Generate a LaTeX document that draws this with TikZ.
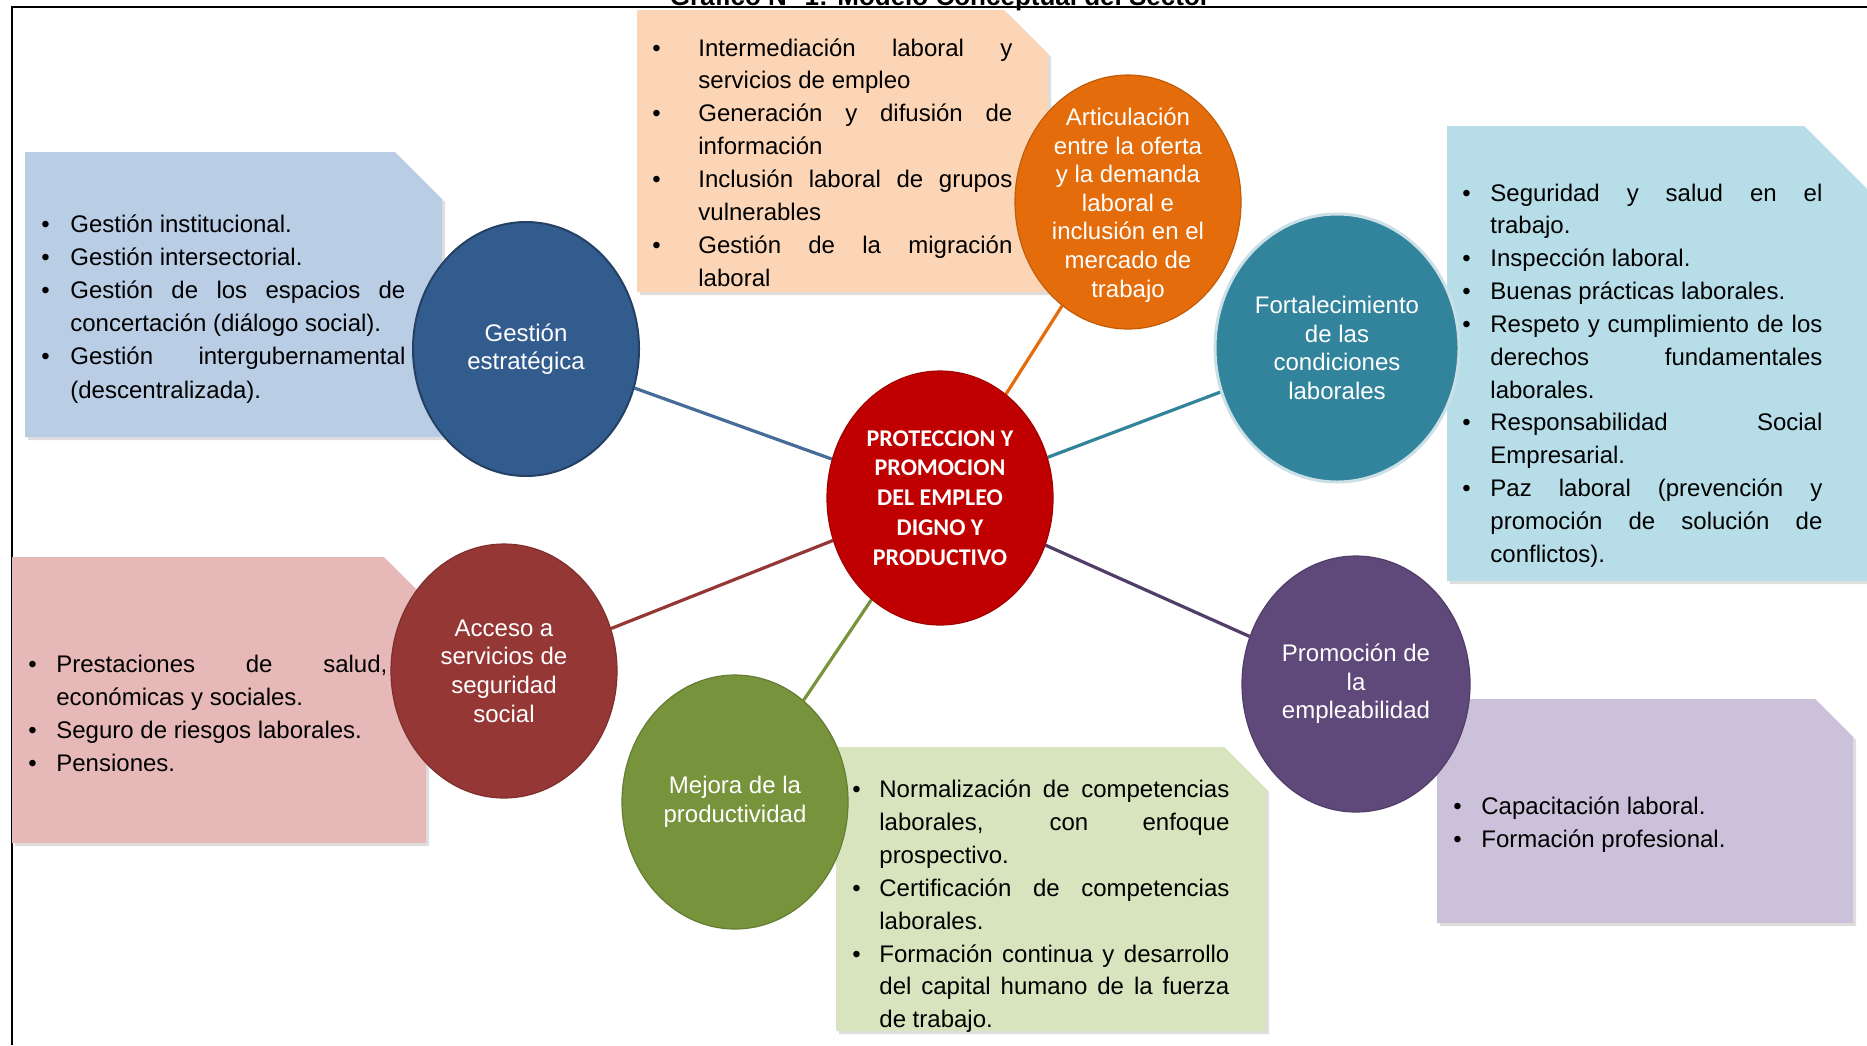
\documentclass[tikz,border=0pt]{standalone}
\usepackage{fontspec}
\setmainfont{Liberation Sans}
\newfontfamily\carlito{Carlito}
\usetikzlibrary{shapes.geometric}
\definecolor{cGE}{HTML}{335C8E}
\definecolor{cOR}{HTML}{E46C0A}
\definecolor{cTE}{HTML}{31849B}
\definecolor{cRE}{HTML}{C00000}
\definecolor{cAC}{HTML}{953735}
\definecolor{cME}{HTML}{77933C}
\definecolor{cPR}{HTML}{5F497A}
\definecolor{bGE}{HTML}{B9CDE5}
\definecolor{bOR}{HTML}{FBD5B5}
\definecolor{bTE}{HTML}{B7DEE8}
\definecolor{bAC}{HTML}{E6B9B8}
\definecolor{bME}{HTML}{D7E4BD}
\definecolor{bPR}{HTML}{CCC1DA}
\pgfdeclarelayer{back}
\pgfdeclarelayer{lines}
\pgfsetlayers{back,lines,main}
\newdimen\Bi \newdimen\Tw
\newcommand\BJ[1]{\hbox{\hbox to\Bi{\textbullet\hss}\hbox to\Tw{#1}}}
\newcommand\BL[1]{\hbox{\hbox to\Bi{\textbullet\hss}\hbox to\Tw{#1\hfil}}}
\newcommand\CJ[1]{\hbox{\hskip\Bi\hbox to\Tw{#1}}}
\newcommand\CL[1]{\hbox{\hskip\Bi\hbox to\Tw{#1\hfil}}}
\newcommand\cutbox[6]{%
  \fill[black,opacity=.13] ({#2+3},{#3+3}) -- ({#4-#6+3},{#3+3}) -- ({#4+3},{#3+#6+3}) -- ({#4+3},{#5+3}) -- ({#2+3},{#5+3}) -- cycle;
  \fill[#1] (#2,#3) -- ({#4-#6},#3) -- (#4,{#3+#6}) -- (#4,#5) -- (#2,#5) -- cycle;}
\begin{document}
\begin{tikzpicture}[x=0.5pt,y=-0.5pt,
  circ/.style={ellipse,minimum width=113pt,minimum height=127pt,inner sep=0pt},
  ctext/.style={inner sep=0pt,align=center,text=white,font=\fontsize{12}{14.3}\selectfont},
  btxt/.style={anchor=base west,inner sep=0pt,font=\fontsize{12}{16.4}\selectfont},
  conn/.style={line width=1.6pt}]
\begin{pgfonlayer}{back}
\fill[white] (0,0) rectangle (1867,1045);
\end{pgfonlayer}
\useasboundingbox (0,0) rectangle (1867,1045);
% title (cut by the top edge) and frame
\node[anchor=base,inner sep=0pt,font=\bfseries\fontsize{13}{15}\selectfont] (title) at (940,5) {Gráfico N° 1: Modelo Conceptual del Sector};
\draw[line width=1pt] (12,1045) -- (12,7) -- (1867,7);
% boxes
\cutbox{bGE}{25}{152}{442}{437}{47}
\cutbox{bOR}{637}{10}{1048}{292}{44}
\cutbox{bTE}{1447}{126}{1885}{581}{81}
\cutbox{bAC}{12}{557}{426}{843}{42}
\cutbox{bME}{836}{747}{1266}{1031}{42}
\cutbox{bPR}{1437}{699}{1853}{923}{38}
% box texts
\node[btxt] (tGE) at (41,232) {\vtop{\Bi=14.5pt\Tw=167.5pt\baselineskip=16.6pt
  \BL{Gestión institucional.}
  \BL{Gestión intersectorial.}
  \BJ{Gestión de los espacios de}
  \CL{concertación (diálogo social).}
  \BJ{Gestión intergubernamental}
  \CL{(descentralizada).}}};
\node[btxt] (tOR) at (652,56) {\vtop{\Bi=23pt\Tw=157pt\baselineskip=16.45pt
  \BJ{Intermediación laboral y}
  \CL{servicios de empleo}
  \BJ{Generación y difusión de}
  \CL{información}
  \BJ{Inclusión laboral de grupos}
  \CL{vulnerables}
  \BJ{Gestión de la migración}
  \CL{laboral}}};
\node[btxt] (tTE) at (1462,201) {\vtop{\Bi=14pt\Tw=166pt\baselineskip=16.42pt
  \BJ{Seguridad y salud en el}
  \CL{trabajo.}
  \BL{Inspección laboral.}
  \BL{Buenas prácticas laborales.}
  \BJ{Respeto y cumplimiento de los}
  \CJ{derechos fundamentales}
  \CL{laborales.}
  \BJ{Responsabilidad Social}
  \CL{Empresarial.}
  \BJ{Paz laboral (prevención y}
  \CJ{promoción de solución de}
  \CL{conflictos).}}};
\node[btxt] (tAC) at (28,672.5) {\vtop{\Bi=14pt\Tw=165.5pt\baselineskip=16.5pt
  \BJ{Prestaciones de salud,}
  \CL{económicas y sociales.}
  \BL{Seguro de riesgos laborales.}
  \BL{Pensiones.}}};
\node[btxt] (tME) at (852,797.5) {\vtop{\Bi=13.5pt\Tw=175pt\baselineskip=16.45pt
  \BJ{Normalización de competencias}
  \CJ{laborales, con enfoque}
  \CL{prospectivo.}
  \BJ{Certificación de competencias}
  \CL{laborales.}
  \BJ{Formación continua y desarrollo}
  \CJ{del capital humano de la fuerza}
  \CL{de trabajo.}}};
\node[btxt] (tPR) at (1453,814.5) {\vtop{\Bi=14pt\Tw=160pt\baselineskip=16.5pt
  \BL{Capacitación laboral.}
  \BL{Formación profesional.}}};
% circles
\node[circ,fill=cGE,draw=cGE!70!black,line width=1pt] (ge) at (526,349) {};
\node[circ,fill=cOR,draw=cOR!85!black,line width=.6pt] (ar) at (1128,202) {};
\node[circ,fill=cTE,draw=cTE!25!white,line width=1.5pt,minimum width=122pt,minimum height=134pt] (fo) at (1337,348) {};
\node[circ,fill=cRE,draw=cRE!85!black,line width=.6pt] (core) at (940,498) {};
\node[circ,fill=cAC,draw=cAC!85!black,line width=.6pt] (ac) at (504,671) {};
\node[circ,fill=cME,draw=cME!85!black,line width=.6pt] (me) at (735,802) {};
\node[circ,fill=cPR,draw=cPR!85!black,line width=.6pt,minimum width=114pt,minimum height=128pt] (pr) at (1356,684) {};
% circle labels
\node[ctext] (lge) at (ge) {Gestión\\estratégica};
\node[ctext] (lar) at (1128,205) {Articulación\\entre la oferta\\y la demanda\\laboral e\\inclusión en el\\mercado de\\trabajo};
\node[ctext] (lfo) at (fo) {Fortalecimiento\\de las\\condiciones\\laborales};
\node[ctext,font=\carlito\bfseries\fontsize{12}{14.9}\selectfont] (lcore) at (core) {PROTECCION Y\\PROMOCION\\DEL EMPLEO\\DIGNO Y\\PRODUCTIVO};
\node[ctext] (lac) at (ac) {Acceso a\\servicios de\\seguridad\\social};
\node[ctext] (lme) at (me) {Mejora de la\\productividad};
\node[ctext] (lpr) at (pr) {Promoción de\\la\\empleabilidad};
% connectors
\begin{pgfonlayer}{lines}
\draw[conn,draw=cGE!90!white] (core) -- (ge);
\draw[conn,draw=cOR] (core) -- (ar);
\draw[conn,draw=cTE] (core) -- (fo);
\draw[conn,draw=cPR!85!black] (core) -- (pr);
\draw[conn,draw=cME] (core) -- (me);
\draw[conn,draw=cAC] (core) -- (ac);
\end{pgfonlayer}
\end{tikzpicture}
\end{document}
